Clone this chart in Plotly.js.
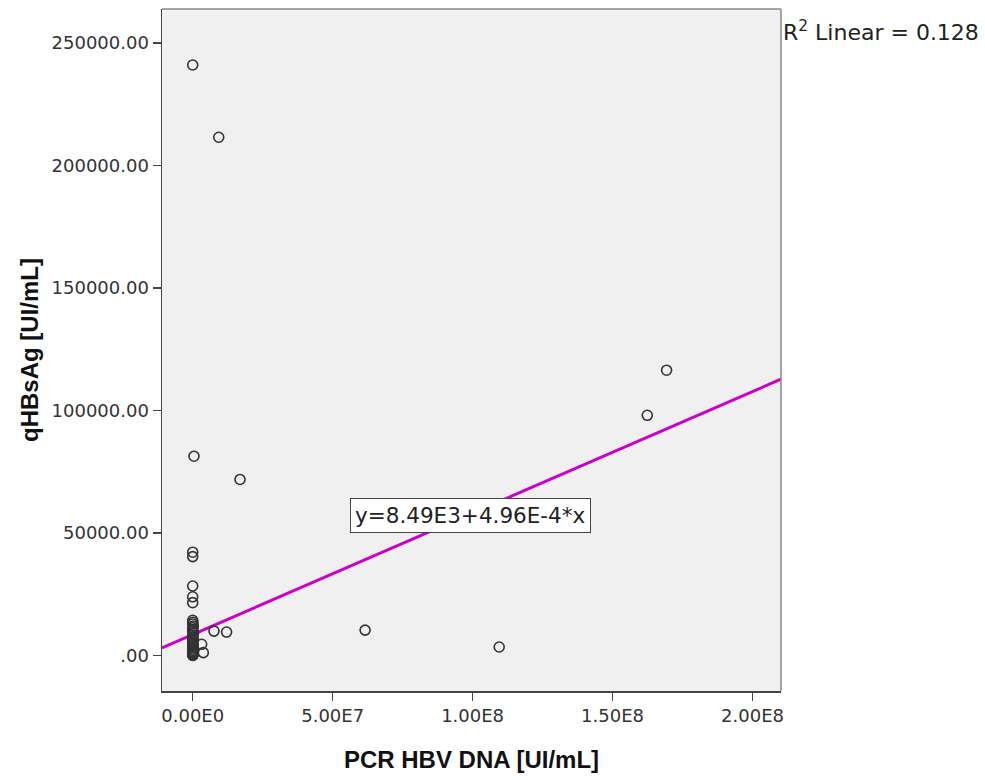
<!DOCTYPE html>
<html>
<head>
<meta charset="utf-8">
<script src="https://cdn.plot.ly/plotly-3.0.1.min.js"></script>
<style>html,body{margin:0;padding:0;background:#fff;}#chart{width:985px;height:780px;}</style>
</head>
<body>
<div id="chart"></div>
<script>
// PCR HBV DNA [UI/mL] (x) vs qHBsAg [UI/mL] (y)
const pcrHbvDna = [
  0, 9.3e6, 4.6e5, 1.69e7, 1.693e8, 1.624e8, 6.16e7, 1.095e8,
  7.6e6, 1.21e7, 3.8e6, 3.2e6,
  0, 0, 0, 0, 0,
  0, 1e5, 0, 2e5, 0, 1e5, 0, 3e5, 0, 1e5, 0, 2e5, 0, 1e5, 0, 2e5, 0, 1e5, 0, 3e5, 0, 1e5, 0, 0, 2e5, 0, 1e5, 0
];
const qHBsAg = [
  241000, 211500, 81300, 71800, 116400, 98000, 10300, 3400,
  9900, 9500, 1100, 4500,
  42100, 40300, 28300, 23900, 21500,
  14300, 13500, 12800, 12000, 11300, 10500, 9800, 9000, 8300, 7600, 7000, 6300, 5700, 5100, 4600, 4000, 3500, 3000, 2500, 2000, 1600, 1200, 900, 600, 400, 200, 100, 0
];
const fitIntercept = 8490;
const fitSlope = 4.96e-4;
const fitLabel = 'y=8.49E3+4.96E-4*x';
const rSquaredLabel = 'R<sup>2</sup> Linear = 0.128';
const xTickVals = [0, 5e7, 1e8, 1.5e8, 2e8];
const xTickText = ['0.00E0', '5.00E7', '1.00E8', '1.50E8', '2.00E8'];
const yTickVals = [0, 50000, 100000, 150000, 200000, 250000];
const yTickText = ['.00', '50000.00', '100000.00', '150000.00', '200000.00', '250000.00'];

const xRange = [-1.097e7, 2.1018e8];
const yRange = [-14560, 263866];
const fitX = [xRange[0], xRange[1]];
const fitY = fitX.map(v => fitIntercept + fitSlope * v);

const wide = 'DejaVu Sans, Verdana, sans-serif';
const arial = 'Liberation Sans, Arial, sans-serif';

const traces = [
  {
    x: fitX, y: fitY, mode: 'lines', type: 'scatter',
    line: {color: '#cc00cc', width: 3}, hoverinfo: 'skip', showlegend: false
  },
  {
    x: pcrHbvDna, y: qHBsAg, mode: 'markers', type: 'scatter',
    marker: {symbol: 'circle-open', size: 10, color: '#333333', line: {width: 1.6, color: '#333333'}},
    showlegend: false
  }
];

const layout = {
  width: 985, height: 780,
  margin: {l: 162, r: 204, t: 9, b: 89},
  paper_bgcolor: '#ffffff',
  plot_bgcolor: '#f0f0f0',
  font: {family: wide, color: '#333333'},
  xaxis: {
    range: xRange, showgrid: false, zeroline: false,
    showline: true, linecolor: '#444444', linewidth: 1.5,
    ticks: 'outside', ticklen: 8, tickwidth: 1.5, tickcolor: '#444444',
    tickvals: xTickVals, ticktext: xTickText,
    tickfont: {family: wide, size: 18, color: '#333333'},
    title: {text: 'PCR HBV DNA [UI/mL]', font: {family: arial, size: 24, color: '#111111', weight: 'bold'}, standoff: 26}
  },
  yaxis: {
    range: yRange, showgrid: false, zeroline: false,
    showline: true, linecolor: '#444444', linewidth: 1.5,
    ticks: 'outside', ticklen: 8, tickwidth: 1.5, tickcolor: '#444444',
    tickvals: yTickVals, ticktext: yTickText,
    tickfont: {family: wide, size: 18, color: '#333333'},
    title: {text: 'qHBsAg [UI/mL]', font: {family: arial, size: 24, color: '#111111', weight: 'bold'}, standoff: 6}
  },
  shapes: [
    {type: 'line', xref: 'paper', yref: 'paper', x0: 0, x1: 1, y0: 1, y1: 1, line: {color: '#888888', width: 1.5}},
    {type: 'line', xref: 'paper', yref: 'paper', x0: 1, x1: 1, y0: 0, y1: 1, line: {color: '#888888', width: 1.5}}
  ],
  annotations: [
    {
      x: 9.94e7, y: 57100, xref: 'x', yref: 'y', text: fitLabel, showarrow: false,
      font: {family: wide, size: 21.5, color: '#222222'},
      bgcolor: '#ffffff', bordercolor: '#444444', borderwidth: 1, borderpad: 4
    },
    {
      x: 1.0, y: 0.968, xref: 'paper', yref: 'paper', xanchor: 'left', yanchor: 'middle',
      xshift: 0, text: rSquaredLabel, showarrow: false,
      font: {family: wide, size: 22, color: '#222222'}
    }
  ]
};

Plotly.newPlot('chart', traces, layout, {displayModeBar: false, staticPlot: true});
</script>
</body>
</html>
